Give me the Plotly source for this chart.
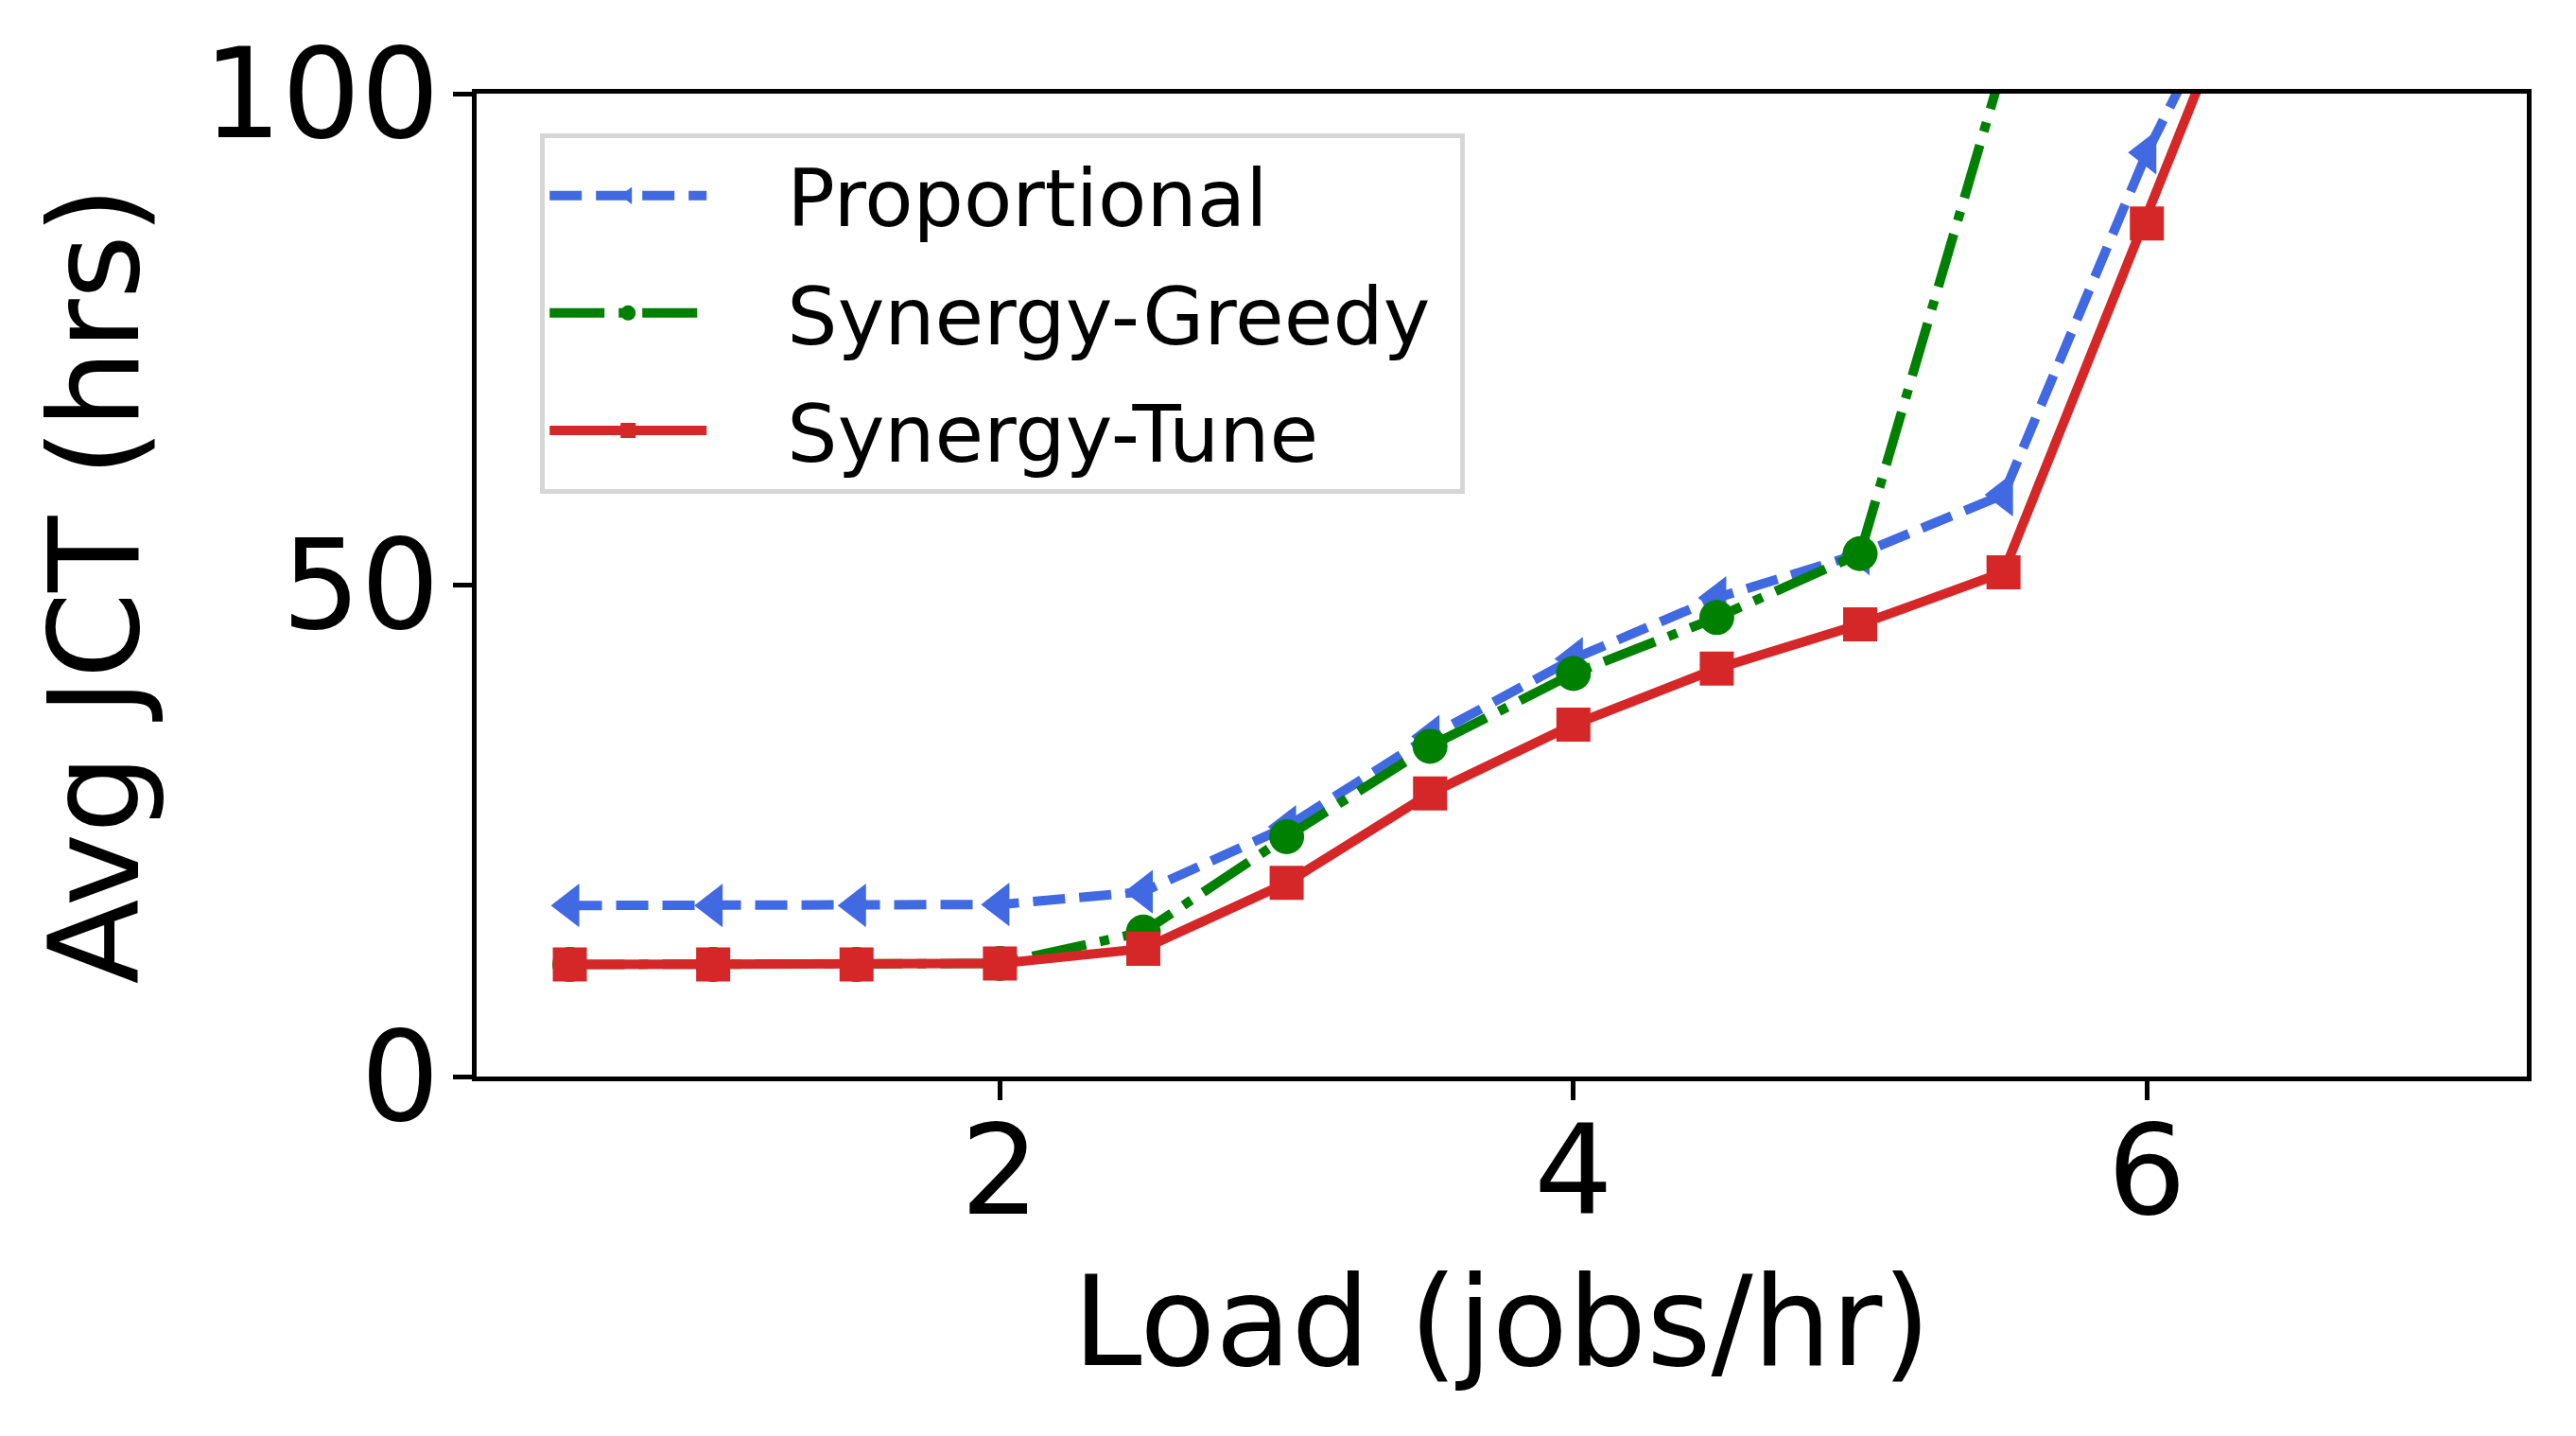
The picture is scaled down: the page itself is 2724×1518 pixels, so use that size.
import plotly.graph_objects as go

# load (jobs/hr) on the x axis
load = [0.5, 1.0, 1.5, 2.0, 2.5, 3.0, 3.5, 4.0, 4.5, 5.0, 5.5, 6.0, 6.5, 7.0]

# average JCT (hrs); points above 100 run off the top
proportional = [17.4, 17.4, 17.4, 17.5, 18.8, 25.4, 34.6, 42.5, 48.7, 53.2, 59.2, 94.0, 123.0, 160.0]
synergy_greedy = [11.4, 11.4, 11.4, 11.5, 14.7, 24.4, 33.6, 41.0, 46.7, 53.2, 103.0, 150.0, 200.0, 260.0]
synergy_tune = [11.4, 11.4, 11.4, 11.5, 13.0, 19.7, 28.8, 35.8, 41.5, 46.0, 51.3, 86.8, 124.0, 170.0]

x_ticks = [2, 4, 6]
y_ticks = [0, 50, 100]

FONT = "DejaVu Sans"
LW = 10
PAD = "\u00a0" * 3  # room between legend sample and its text

fig = go.Figure()

fig.add_trace(go.Scatter(
	x=load, y=proportional, name=PAD + "Proportional", mode="lines+markers",
	legendgroup="a",
	line=dict(color="#4169E1", width=LW, dash="34px,15px"),
	marker=dict(symbol="triangle-left", size=40, color="#4169E1"),
))
fig.add_trace(go.Scatter(
	x=load, y=synergy_greedy, name=PAD + "Synergy-Greedy\u00a0", mode="lines+markers",
	legendgroup="b",
	line=dict(color="#008000", width=LW, dash="58px,15px,10px,15px"),
	marker=dict(symbol="circle", size=37, color="#008000"),
))
fig.add_trace(go.Scatter(
	x=load, y=synergy_tune, name=PAD + "Synergy-Tune", mode="lines+markers",
	legendgroup="c",
	line=dict(color="#D62728", width=LW),
	marker=dict(symbol="square", size=36, color="#D62728"),
))

axis_common = dict(
	showline=True, linecolor="black", linewidth=5, mirror=True,
	showgrid=False, zeroline=False,
	ticks="outside", ticklen=20, tickwidth=5, tickcolor="black",
	tickfont=dict(family=FONT, size=131, color="black"),
)

# the page body adds an 8px offset, so the figure is 8px smaller each way
fig.update_layout(
	width=2716, height=1510,
	margin=dict(l=496, r=52, t=91, b=380),
	paper_bgcolor="white", plot_bgcolor="white",
	font=dict(family=FONT, color="black"),
	xaxis=dict(
		axis_common,
		range=[0.175, 7.325], tickvals=x_ticks, ticklabelstandoff=-37,
		title=dict(text="Load (jobs/hr)", font=dict(family=FONT, size=131), standoff=40),
	),
	yaxis=dict(
		axis_common,
		range=[0, 100], tickvals=y_ticks, ticklabelstandoff=-12,
		title=dict(text="Avg JCT (hrs)", font=dict(family=FONT, size=131), standoff=25),
	),
	legend=dict(
		x=0.031, y=0.96, xanchor="left", yanchor="top",
		bgcolor="white", bordercolor="#d6d6d6", borderwidth=5,
		font=dict(family=FONT, size=84, color="black"),
		itemwidth=166, traceorder="grouped", tracegroupgap=12,
	),
	showlegend=True,
)

fig.write_html("out.html")
